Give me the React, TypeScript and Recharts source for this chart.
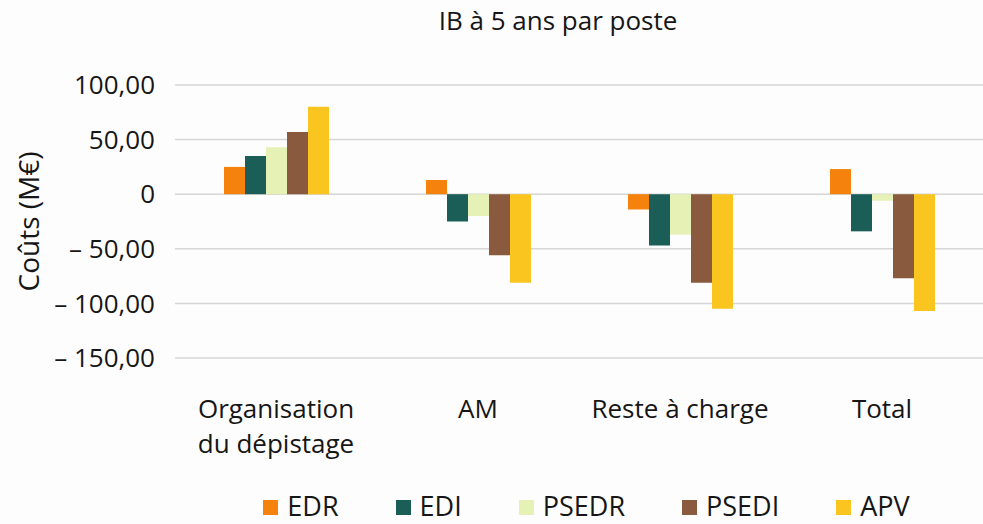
import { BarChart, Bar, XAxis, YAxis, CartesianGrid, Legend } from 'recharts';

const categories = ['Organisation du dépistage', 'AM', 'Reste à charge', 'Total'];
const tickLabels = [['Organisation', 'du dépistage'], ['AM'], ['Reste à charge'], ['Total']];

const edr = [25, 13, -14, 23];
const edi = [35, -25, -47, -34];
const psedr = [43, -20, -37, -6];
const psedi = [57, -56, -81, -77];
const apv = [80, -81, -105, -107];

const yTicks = [-150, -100, -50, 0, 50, 100];

const series = [
  { key: 'EDR', values: edr, color: '#F4820C' },
  { key: 'EDI', values: edi, color: '#1B5E57' },
  { key: 'PSEDR', values: psedr, color: '#E6F1B5' },
  { key: 'PSEDI', values: psedi, color: '#8A5A3F' },
  { key: 'APV', values: apv, color: '#FBC520' },
];

const data = categories.map((name, i) => {
  const row: any = { name };
  series.forEach((s) => (row[s.key] = s.values[i]));
  return row;
});

const FONT = '"Open Sans", sans-serif';
const TEXT = '#161616';

const fmtTick = (v: number) => {
  if (v === 0) return '0';
  const s = Math.abs(v).toFixed(2).replace('.', ',');
  return v < 0 ? `– ${s}` : s;
};

const CategoryTick = ({ x, y, payload }: any) => {
  const lines = tickLabels[categories.indexOf(payload.value)] || [payload.value];
  return (
    <text x={x} y={y} textAnchor="middle" fill={TEXT} fontSize={26} fontFamily={FONT}>
      {lines.map((l, i) => (
        <tspan key={i} x={x} dy={i === 0 ? 52 : 35}>
          {l}
        </tspan>
      ))}
    </text>
  );
};

const YLabel = ({ viewBox }: any) => {
  const cy = viewBox.y + viewBox.height / 2;
  return (
    <text
      x={39}
      y={cy}
      transform={`rotate(-90 39 ${cy})`}
      textAnchor="middle"
      fill={TEXT}
      fontSize={28}
      fontFamily={FONT}
    >
      Coûts (M€)
    </text>
  );
};

const LegendContent = () => (
  <div
    style={{
      display: 'flex',
      justifyContent: 'center',
      alignItems: 'flex-end',
      gap: 57,
      height: 44,
      paddingLeft: 15,
      boxSizing: 'border-box',
      fontFamily: FONT,
      fontSize: 27,
      color: TEXT,
    }}
  >
    {series.map((s) => (
      <div key={s.key} style={{ display: 'flex', alignItems: 'flex-end' }}>
        <span
          style={{
            width: 15,
            height: 15,
            background: s.color,
            marginRight: 9,
            marginBottom: 9,
            display: 'inline-block',
          }}
        />
        <span style={{ lineHeight: 'normal' }}>{s.key}</span>
      </div>
    ))}
  </div>
);

export default function App() {
  return (
    <div style={{ position: 'absolute', left: 0, top: 0, width: 983, height: 524, background: '#fdfdfd' }}>
      <div
        style={{
          position: 'absolute',
          top: 2,
          left: 0,
          width: 1116,
          textAlign: 'center',
          fontFamily: FONT,
          fontSize: 26,
          color: TEXT,
        }}
      >
        IB à 5 ans par poste
      </div>
      <BarChart
        width={983}
        height={524}
        data={data}
        margin={{ top: 85, right: 0, bottom: 0, left: 0 }}
        barSize={21}
        barGap={0}
      >
        <CartesianGrid vertical={false} stroke="#d6d6d6" strokeWidth={1.5} />
        <XAxis
          dataKey="name"
          axisLine={false}
          tickLine={false}
          height={122}
          tick={<CategoryTick />}
          interval={0}
        />
        <YAxis
          width={175}
          domain={[-150, 100]}
          ticks={yTicks}
          axisLine={false}
          tickLine={false}
          tickSize={0}
          tickMargin={20}
          tickFormatter={fmtTick}
          tick={{ fill: TEXT, fontSize: 26, fontFamily: FONT }}
          label={<YLabel />}
        />
        <Legend verticalAlign="bottom" content={<LegendContent />} wrapperStyle={{ left: 175, width: 808 }} />
        {series.map((s) => (
          <Bar key={s.key} dataKey={s.key} fill={s.color} isAnimationActive={false} />
        ))}
      </BarChart>
    </div>
  );
}
